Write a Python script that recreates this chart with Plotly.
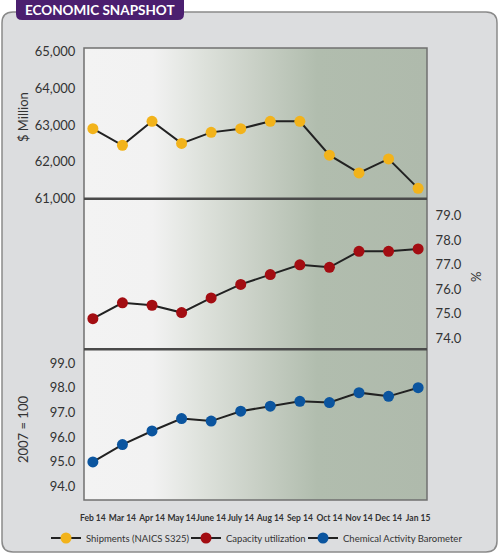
import plotly.graph_objects as go
from plotly.subplots import make_subplots

# Data
months = ["Feb 14", "Mar 14", "Apr 14", "May 14", "June 14", "July 14",
          "Aug 14", "Sep 14", "Oct 14", "Nov 14", "Dec 14", "Jan 15"]
shipments = [62900, 62450, 63100, 62500, 62800, 62900,
             63100, 63100, 62180, 61700, 62080, 61280]
capacity = [74.8, 75.45, 75.35, 75.05, 75.65, 76.2,
            76.6, 77.0, 76.9, 77.55, 77.55, 77.65]
cab = [95.0, 95.7, 96.25, 96.75, 96.65, 97.05,
       97.25, 97.45, 97.4, 97.8, 97.65, 98.0]

ship_ticks = [61000, 62000, 63000, 64000, 65000]
cap_ticks = [74, 75, 76, 77, 78, 79]
cab_ticks = [94, 95, 96, 97, 98, 99]

ranges = [[61000, 65090], [73.55, 79.7], [93.46, 99.55]]
xrange_ = [-0.3, 11.3]
xs = list(range(len(months)))

YELLOW = "#f2b31b"
RED = "#a30d12"
BLUE = "#0b559f"
TEXT = "#333333"
FONT = "Lato"

fig = make_subplots(rows=3, cols=1, shared_xaxes=True, vertical_spacing=0)

grad = [[0, "#f3f3f3"], [0.2, "#f2f2f2"], [0.35, "#dde1db"],
        [0.5, "#c9d0c6"], [0.68, "#b1bdae"], [1, "#afbaac"]]

# panel backgrounds with horizontal gradient
for i, (lo, hi) in enumerate(ranges):
    fig.add_trace(go.Scatter(
        x=[xrange_[0], xrange_[1], xrange_[1], xrange_[0], xrange_[0]],
        y=[lo, lo, hi, hi, lo],
        mode="lines", line=dict(width=0), fill="toself",
        fillgradient=dict(type="horizontal", colorscale=grad),
        hoverinfo="skip", showlegend=False), row=i + 1, col=1)

series = [("Shipments (NAICS S325)", shipments, YELLOW),
          ("Capacity utilization", capacity, RED),
          ("Chemical Activity Barometer", cab, BLUE)]
legend_ids = ["legend", "legend2", "legend3"]
for i, (name, vals, col) in enumerate(series):
    fig.add_trace(go.Scatter(
        x=xs, y=vals, name=name, mode="lines+markers", legend=legend_ids[i],
        line=dict(color="#222222", width=2),
        marker=dict(color=col, size=11, line=dict(width=0))), row=i + 1, col=1)

fig.update_xaxes(range=xrange_, showgrid=False, zeroline=False, showline=False,
                 tickvals=xs, ticktext=months, tickangle=0,
                 ticks="outside", ticklen=10, tickcolor="rgba(0,0,0,0)",
                 tickfont=dict(family=FONT, size=8.5, color=TEXT, weight="bold"))

yfont = dict(family=FONT, size=13, color=TEXT)
fig.update_yaxes(showgrid=False, zeroline=False, showline=False,
                 ticks="outside", ticklen=5, tickcolor="rgba(0,0,0,0)", tickfont=yfont)
fig.update_yaxes(range=ranges[0], tickvals=ship_ticks, tickformat=",", row=1, col=1)
fig.update_yaxes(range=ranges[1], tickvals=cap_ticks, tickformat=".1f", side="right", row=2, col=1)
fig.update_yaxes(range=ranges[2], tickvals=cab_ticks, tickformat=".1f", row=3, col=1)

L, R, T, B = 84, 73, 48, 58
W, H = 500, 558
pw, ph = W - L - R, H - T - B


def px(x):
    return (x - L) / pw


def py(y):
    return (H - B - y) / ph


def rounded(x0, y0, x1, y1, r):
    rx, ry = r / pw, r / ph
    a, b, c, d = px(x0), px(x1), py(y0), py(y1)
    return (f"M {a+rx},{c} L {b-rx},{c} Q {b},{c} {b},{c-ry} "
            f"L {b},{d+ry} Q {b},{d} {b-rx},{d} L {a+rx},{d} "
            f"Q {a},{d} {a},{d+ry} L {a},{c-ry} Q {a},{c} {a+rx},{c} Z")


shapes = [
    dict(type="path", xref="paper", yref="paper", layer="below",
         path=rounded(2, 12, 497, 552, 11),
         fillcolor="#dcdddf", line=dict(color="#8a8a8a", width=1.5)),
    dict(type="path", xref="paper", yref="paper", layer="above",
         path=rounded(16, -8, 184, 20, 6),
         fillcolor="#4b1f6f", line=dict(width=0)),
    dict(type="rect", xref="paper", yref="paper", x0=0, x1=1, y0=0, y1=1,
         line=dict(color="#707070", width=1.5), layer="above"),
    dict(type="line", xref="paper", yref="paper", x0=0, x1=1, y0=2 / 3, y1=2 / 3,
         line=dict(color="#4a4a4a", width=2.5), layer="above"),
    dict(type="line", xref="paper", yref="paper", x0=0, x1=1, y0=1 / 3, y1=1 / 3,
         line=dict(color="#4a4a4a", width=2.5), layer="above"),
]


def label(text, x, y, font, angle=0):
    return dict(text=text, x=px(x), y=py(y), xref="paper", yref="paper",
                xanchor="center", yanchor="middle", showarrow=False,
                textangle=angle, font=font)


annotations = [
    label("ECONOMIC SNAPSHOT", 100, 10,
          dict(family=FONT, size=13.5, color="white", weight="bold")),
    label("$ Million", 23, 117, yfont, -90),
    label("2007 = 100", 23, 430, yfont, -90),
    label("%", 476, 277, yfont, -90),
]


def legend_at(left):
    return dict(orientation="h", x=px(left), xanchor="left", y=py(538), yanchor="middle",
                font=dict(family=FONT, size=9.5, color=TEXT), bgcolor="rgba(0,0,0,0)",
                itemwidth=30)


fig.update_layout(
    width=W, height=H,
    margin=dict(l=L, r=R, t=T, b=B, autoexpand=False),
    paper_bgcolor="white", plot_bgcolor="rgba(0,0,0,0)",
    shapes=shapes, annotations=annotations,
    showlegend=True,
    legend=legend_at(46), legend2=legend_at(186), legend3=legend_at(303),
    font=dict(family=FONT, color=TEXT),
)

fig.write_html("out.html", config={"displayModeBar": False},
               post_script="document.body.style.margin='0';")
